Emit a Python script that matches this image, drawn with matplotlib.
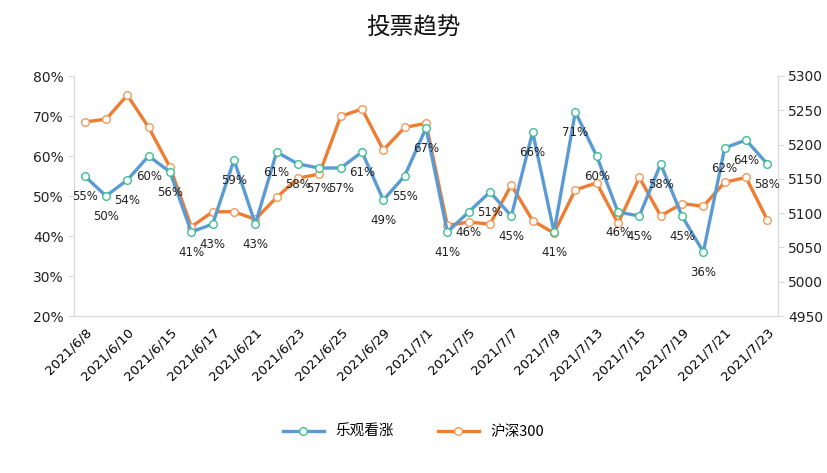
import matplotlib
matplotlib.use("Agg")
import matplotlib.pyplot as plt
from matplotlib.ticker import FuncFormatter, MultipleLocator

plt.rcParams['font.family'] = ['Noto Sans CJK SC', 'DejaVu Sans']

dates = ["2021/6/8", "2021/6/9", "2021/6/10", "2021/6/11", "2021/6/15", "2021/6/16",
         "2021/6/17", "2021/6/18", "2021/6/21", "2021/6/22", "2021/6/23", "2021/6/24",
         "2021/6/25", "2021/6/28", "2021/6/29", "2021/6/30", "2021/7/1", "2021/7/2",
         "2021/7/5", "2021/7/6", "2021/7/7", "2021/7/8", "2021/7/9", "2021/7/12",
         "2021/7/13", "2021/7/14", "2021/7/15", "2021/7/16", "2021/7/19", "2021/7/20",
         "2021/7/21", "2021/7/22", "2021/7/23"]

bullish = [55, 50, 54, 60, 56, 41, 43, 59, 43, 61, 58, 57, 57, 61, 49, 55, 67,
           41, 46, 51, 45, 66, 41, 71, 60, 46, 45, 58, 45, 36, 62, 64, 58]

hs300 = [5233, 5237, 5272, 5225, 5167, 5080, 5102, 5102, 5091, 5123, 5151, 5157,
         5241, 5252, 5192, 5225, 5231, 5082, 5087, 5084, 5141, 5089, 5071, 5134,
         5144, 5085, 5152, 5096, 5114, 5110, 5145, 5152, 5090]

title = "投票趋势"
name1 = "乐观看涨"
name2 = "沪深300"

blue = "#5B9BD5"
orange = "#ED7D31"

fig = plt.figure(figsize=(8.27, 4.73), dpi=100)
ax = fig.add_axes([74/827, 1-316/473, (778-74)/827, (316-76)/473])
ax2 = ax.twinx()

x = list(range(len(dates)))
l1, = ax.plot(x, bullish, color=blue, lw=2.4, marker='o', ms=5.5,
              mfc='white', mec='#3EBF8E', mew=1.0, zorder=3, label=name1)
l2, = ax2.plot(x, hs300, color=orange, lw=2.4, marker='o', ms=5.5,
               mfc='white', mec='#F29A5C', mew=1.0, zorder=3, label=name2)

ax.set_zorder(ax2.get_zorder() + 1)
ax.patch.set_visible(False)

ax.set_xlim(-0.5, len(dates) - 0.5)
ax.set_ylim(20, 80)
ax.yaxis.set_major_locator(MultipleLocator(10))
ax.yaxis.set_major_formatter(FuncFormatter(lambda v, p: f"{v:.0f}%"))
ax2.set_ylim(4950, 5300)
ax2.yaxis.set_major_locator(MultipleLocator(50))

ax.set_xticks(x[::2])
ax.set_xticklabels(dates[::2], rotation=45, ha='right', rotation_mode='anchor',
                   fontsize=9.5, family=['DejaVu Sans'])
ax.tick_params(axis='x', length=0, pad=7)

for a in (ax, ax2):
    a.spines['top'].set_visible(False)
    for s in ('left', 'right', 'bottom'):
        a.spines[s].set_color('#D9D9D9')
    a.tick_params(axis='y', colors='#D9D9D9', labelcolor='#222222',
                  labelsize=10, length=4)
for lab in ax.get_yticklabels() + ax2.get_yticklabels():
    lab.set_family(['DejaVu Sans'])

for xi, v in zip(x, bullish):
    ax.annotate(f"{v}%", (xi, v), xytext=(0, -15), textcoords='offset points',
                ha='center', va='center', fontsize=8.5, color='#222222',
                family=['DejaVu Sans'], zorder=5)

fig.text(0.5, 1-28/473, title, ha='center', va='center', fontsize=17,
         color='#111111')

fig.legend(handles=[l1, l2], loc='center', bbox_to_anchor=(0.5, 1-432/473),
           ncol=2, frameon=False, fontsize=10.5, handlelength=2.8,
           columnspacing=3)

fig.savefig("out.png", dpi=100)
